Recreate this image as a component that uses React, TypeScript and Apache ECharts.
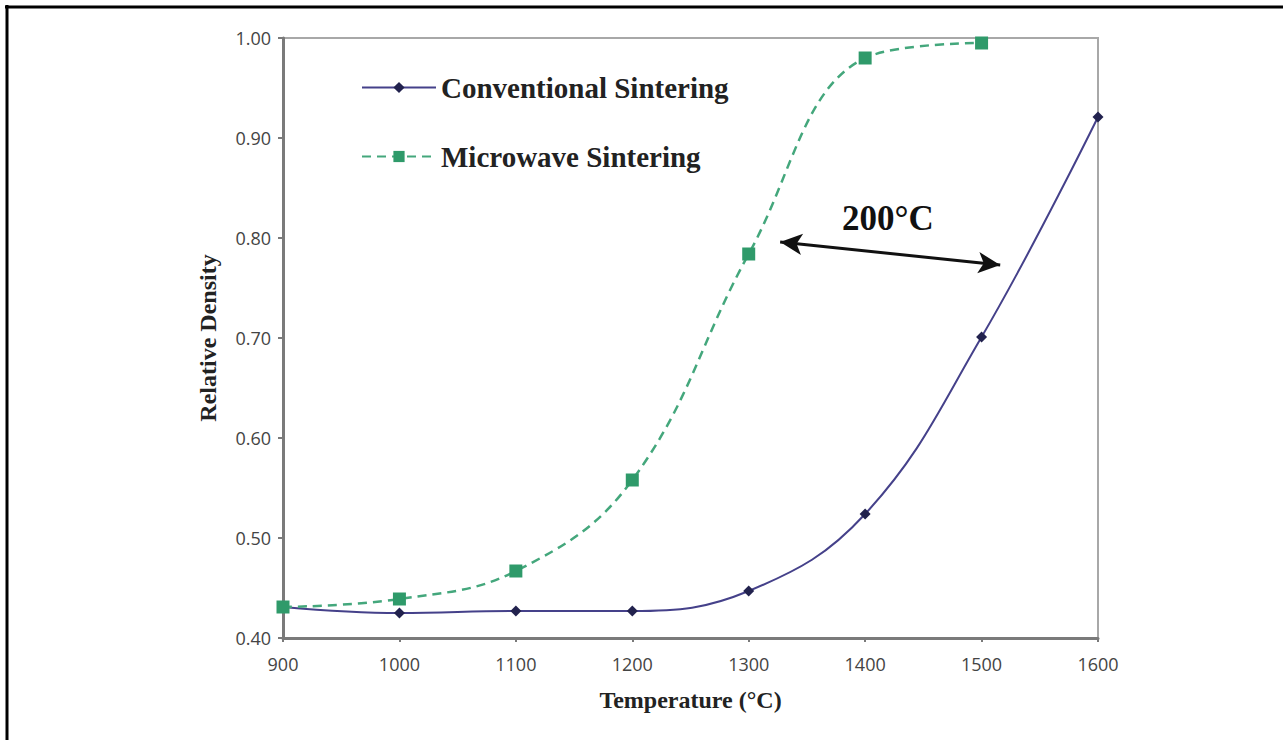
import React, { useEffect, useRef } from "react";
import * as echarts from "echarts";

const temperatures = [900, 1000, 1100, 1200, 1300, 1400, 1500, 1600];
const conventional = [0.431, 0.425, 0.427, 0.427, 0.447, 0.524, 0.701, 0.921];
const microwaveTemps = [900, 1000, 1100, 1200, 1300, 1400, 1500];
const microwave = [0.431, 0.439, 0.467, 0.558, 0.784, 0.98, 0.995];
const seriesNames = ["Conventional Sintering", "Microwave Sintering"];
const arrowStart = [1327, 0.796];
const arrowEnd = [1516, 0.773];
const annotation = "200°C";

export default function App() {
  const ref = useRef<HTMLDivElement>(null);
  useEffect(() => {
    if (!ref.current) return;
    const chart = echarts.init(ref.current, undefined, { renderer: "svg" });
    const serif = "'Liberation Serif', 'DejaVu Serif', serif";
    chart.setOption({
      animation: false,
      backgroundColor: "#ffffff",
      grid: {
        left: 283,
        top: 38,
        right: 185,
        bottom: 102,
        show: true,
        borderColor: "#a8a8a8",
        borderWidth: 2,
        backgroundColor: "transparent",
      },
      legend: {
        orient: "vertical",
        left: 356,
        top: 68,
        itemWidth: 74,
        itemHeight: 14,
        itemGap: 40,
        data: seriesNames,
        textStyle: {
          fontFamily: serif,
          fontWeight: "bold",
          fontSize: 29,
          color: "#222",
          padding: [0, 0, 0, 0],
        },
      },
      xAxis: {
        type: "value",
        min: 900,
        max: 1600,
        interval: 100,
        name: "Temperature (°C)",
        nameLocation: "middle",
        nameGap: 50,
        nameTextStyle: { fontFamily: serif, fontWeight: "bold", fontSize: 24, color: "#222" },
        axisLine: { show: true, lineStyle: { color: "#7a7a7a", width: 3 } },
        axisTick: { show: true, length: 4, lineStyle: { color: "#7a7a7a", width: 2 } },
        axisLabel: {
          margin: 17,
          fontFamily: "'Open Sans', sans-serif",
          fontSize: 18,
          color: "#444",
          formatter: (v: number) => String(v),
        },
        splitLine: { show: false },
      },
      yAxis: {
        type: "value",
        min: 0.4,
        max: 1.0,
        interval: 0.1,
        name: "Relative Density",
        nameLocation: "middle",
        nameGap: 63,
        nameTextStyle: { fontFamily: serif, fontWeight: "bold", fontSize: 24, color: "#222" },
        axisLine: { show: true, lineStyle: { color: "#7a7a7a", width: 3 } },
        axisTick: { show: true, length: 5, lineStyle: { color: "#7a7a7a", width: 2 } },
        axisLabel: {
          margin: 12,
          fontFamily: "'Open Sans', sans-serif",
          fontSize: 18,
          color: "#444",
          formatter: (v: number) => v.toFixed(2),
        },
        splitLine: { show: false },
      },
      series: [
        {
          name: seriesNames[0],
          type: "line",
          smooth: 0.4,
          data: temperatures.map((t, i) => [t, conventional[i]]),
          symbol: "diamond",
          symbolSize: 11,
          itemStyle: { color: "#22224e" },
          lineStyle: { color: "#45418a", width: 2 },
          z: 3,
          markLine: {
            silent: true,
            symbol: ["arrow", "arrow"],
            symbolSize: [16, 22],
            label: { show: false },
            lineStyle: { color: "#111", width: 3, type: "solid" },
            data: [[{ coord: arrowStart }, { coord: arrowEnd }]],
          },
        },
        {
          name: seriesNames[1],
          type: "line",
          smooth: 0.4,
          data: microwaveTemps.map((t, i) => [t, microwave[i]]),
          symbol: "rect",
          symbolSize: 13,
          itemStyle: { color: "#2f9a6a" },
          lineStyle: { color: "#44a77c", width: 2.5, type: [9, 6] },
          z: 4,
        },
      ],
      graphic: [
        {
          type: "text",
          left: 842,
          top: 201,
          style: {
            text: annotation,
            font: "bold 35px 'Liberation Serif', serif",
            fill: "#111",
          },
        },
        {
          type: "line",
          shape: { x1: 5, y1: 7, x2: 1283, y2: 7 },
          style: { stroke: "#000", lineWidth: 3 },
        },
        {
          type: "line",
          shape: { x1: 7, y1: 5, x2: 7, y2: 740 },
          style: { stroke: "#000", lineWidth: 3 },
        },
      ],
    });
    return () => chart.dispose();
  }, []);
  return (
    <div
      ref={ref}
      style={{ position: "fixed", left: 0, top: 0, width: 1283, height: 740, background: "#fff" }}
    />
  );
}
